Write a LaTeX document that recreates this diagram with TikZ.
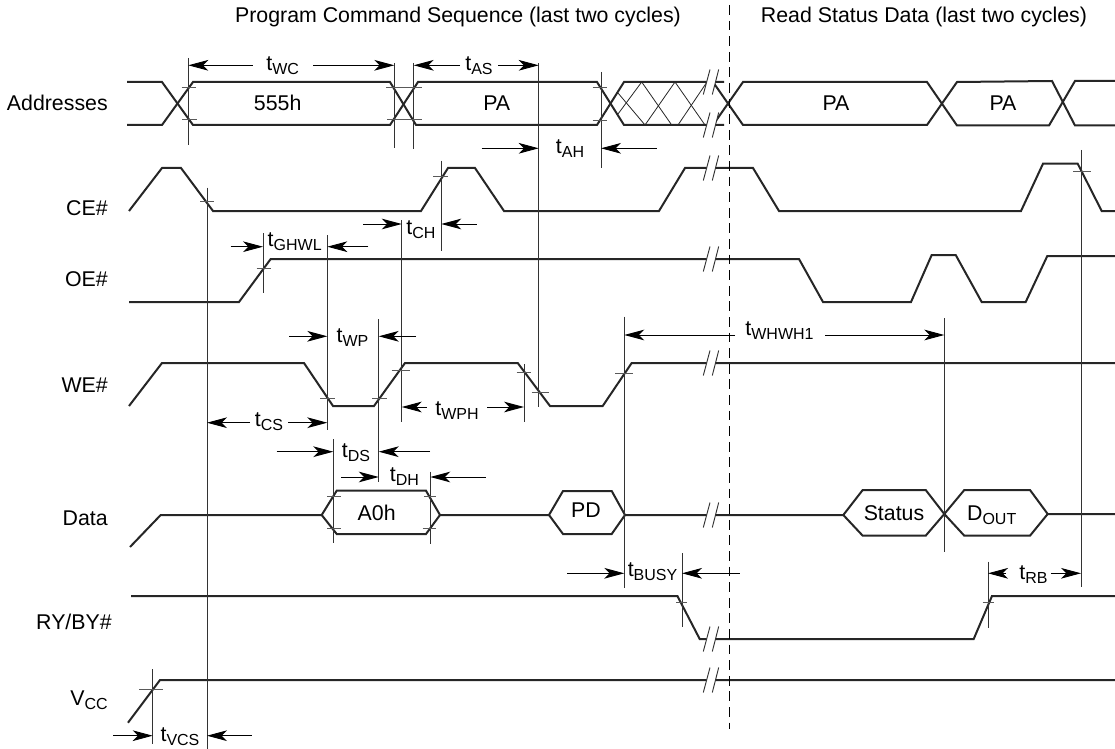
\documentclass[tikz,border=0pt]{standalone}
\usepackage{fontspec}
\setmainfont{Liberation Sans}
\usetikzlibrary{arrows.meta}
\newcommand{\subt}[2]{#1\raisebox{-3.2pt}{\fontsize{12}{12}\selectfont #2}}
\begin{document}
\begin{tikzpicture}[x=0.75pt,y=-0.75pt,
    wave/.style={line width=1.5pt,black!85,line join=miter},
    guide/.style={line width=0.7pt,black!80},
    tick/.style={line width=0.6pt,black!65},
    hatch/.style={line width=0.6pt,black!85},
    dim/.style={line width=0.7pt,black,-{Stealth[length=15pt,width=8pt,inset=4pt]}},
    txt/.style={font=\fontsize{16}{16}\selectfont,inner sep=0pt,anchor=base},
    rowtxt/.style={txt,anchor=base east}]
      \useasboundingbox (0,0) rectangle (1115,749);
      \node[txt] (seqprog) at (458,23) {Program Command Sequence (last two cycles)};
      \node[txt] (seqread) at (924,23) {Read Status Data (last two cycles)};
      \foreach \nam/\y/\lab in {addr/110.7/Addresses,ce/215/CE\#,oe/286/OE\#,we/392.7/WE\#,data/525/Data} {%
        \node[rowtxt] (row\nam) at (108,\y) {\lab};
      }
      \node[rowtxt] (rowry) at (112,629) {RY/BY\#};
      \node[rowtxt] (rowvcc) at (108,705) {\subt{V}{CC}};
      \draw[wave] (127,82) -- (162,82) -- (193,125) -- (390,125) -- (418,82) -- (597,82) -- (624,125) -- (724,125);
      \draw[wave] (127,125) -- (162,125) -- (193,82) -- (390,82) -- (416,125) -- (597,125) -- (624,82) -- (724,82);
      \draw[wave] (713,82) -- (743,125) -- (927,125) -- (957,82) -- (1052,81) -- (1075,125.5) -- (1115,125.5);
      \draw[wave] (713,125) -- (743,82) -- (927,82) -- (957,125.5) -- (1049,125.5) -- (1075,81) -- (1115,81);
      \foreach \xa/\ya/\xb/\yb in {641.7/82/618/114,618/93/645/125,675/82/645/125,641.7/82/671.7/125,
        675/82/705/125,707/82/678/125} {%
        \draw[hatch] (\xa,\ya) -- (\xb,\yb);
      }
      \draw[wave] (129,211) -- (162,168) -- (181,168) -- (213,211) -- (421,211) -- (448,168) -- (475,168)
        -- (504,211) -- (659,211) -- (685,168) -- (753,168) -- (779,211) -- (1021,211) -- (1043,163.7)
        -- (1077.7,163.7) -- (1101.7,211) -- (1115,211);
      \draw[wave] (129,302) -- (239,302) -- (270.7,259) -- (799,259) -- (823,302) -- (911,302) -- (931.7,255)
        -- (955.7,255) -- (981.7,302) -- (1025.7,302) -- (1047.3,256) -- (1115,256);
      \draw[wave] (129,406) -- (162,363) -- (304,363) -- (333,406) -- (374,406) -- (405,363) -- (517.7,363)
        -- (550,406) -- (602.7,406) -- (631.7,363) -- (1115,363);
      \draw[wave] (130,547) -- (160.7,515) -- (321.7,515) -- (336.7,490.7) -- (426,490.7) -- (440,515)
        -- (549,515) -- (563,491) -- (611.7,491) -- (625,515) -- (843.3,515) -- (862.7,490) -- (925.7,490)
        -- (944.3,514) -- (964.3,490) -- (1030,490) -- (1047.7,514) -- (1115,514);
      \draw[wave] (321.7,515) -- (336.7,534) -- (426,534) -- (440,515);
      \draw[wave] (549,515) -- (563,534) -- (611.7,534) -- (625,515);
      \draw[wave] (843.3,515) -- (862.7,535.7) -- (925.7,535.7) -- (944.3,514) -- (964.3,535.7) -- (1030,535.7) -- (1047.7,514);
      \draw[wave] (131,596) -- (677.4,596) -- (699.7,639) -- (973.7,639) -- (992,596) -- (1115,596);
      \draw[wave] (128,722.7) -- (160,680) -- (1115,680);
      \foreach \y in {82,125,168,259,363,515,639,680} {%
        \fill[white] (703.3,\y+12.5) -- (710,\y-12.5) -- (718.7,\y-12.5) -- (712.3,\y+12.5) -- cycle;
        \draw[guide] (703.3,\y+12.5) -- (710,\y-12.5);
        \draw[guide] (712.3,\y+12.5) -- (718.7,\y-12.5);
      }
      \draw[line width=0.8pt,dash pattern=on 7.3pt off 4.4pt] (729.5,5) -- (729.5,729);
      \foreach \x/\ya/\yb in {188.3/58/145,394.3/63/148,413.7/63/149,538.7/63/406.7,601/72/167.7,207/187.7/749,
        441.3/160.7/250.7,401.7/220/421.7,263/233/293,327.3/235/430,378.7/319.3/481.7,333.3/439.3/543,
        430.3/471.7/544,524/364/421.7,624.3/316.7/587.7,944.3/318.3/551.7,1081/150/586.7,682/553/626.7,
        988/561.7/627.7,152.7/669/744} {%
        \draw[guide] (\x,\ya) -- (\x,\yb);
      }
      \foreach \xa/\xb/\y in {181.7/196/87.7,182/197/119,386/421.7/87.7,387/421.7/119,592.7/607/87.7,592.7/607/120,
        200/214.3/201.7,433/448/176.7,1073/1091/171.7,256.7/271/268.7,320/335/398.7,372/386.7/398.7,
        391.7/410/370.7,516.7/531/372.7,531.7/549.3/392.3,615/632.7/373.3,327.3/340.7/496,327.3/340.7/528.3,
        424/435.7/496,422.7/435.7/528.3,676/687.3/602.7,982.5/994/602.7,139/163.3/689.7} {%
        \draw[tick] (\xa,\y) -- (\xb,\y);
      }
      \foreach \xa/\xb/\y in {252.7/188.3/65.3,313.3/394.3/65.3,460/413.7/65.3,498.3/538.7/65.3,481.7/538.7/148.3,
        656.7/601/148.3,363.3/401.7/224,476.7/441.3/224,230.7/263/246.7,368.3/327.3/246.7,289.3/327.3/336.3,
        416/378.7/336.3,250/207/422.7,288.3/327.3/422.7,426.7/401.7/407,487.3/524/407,276.7/333.3/451.7,
        430/378.7/451.7,341/378.7/477,485.7/430.3/477,735/624.3/335,825/944.3/335,567/624.3/573.3,739.6/682/573.3,
        1006/988/573.3,1050.8/1081/573.3,113/152.7/735.7,251.7/207/735.7} {%
        \draw[dim] (\xa,\y) -- (\xb,\y);
      }
      \foreach \nam/\x/\y/\lab in {wc/282.7/70.7/WC,as/479/70.7/AS,ah/570/153/AH,ch/421/234.7/CH,ghwl/294.7/246.3/GHWL,
        wp/352.5/342/WP,cs/269/426/CS,wph/457/415.7/WPH,ds/356/457.7/DS,dh/404.5/481/DH,whwh/779.5/335.7/WHWH1,
        busy/652.5/576.7/BUSY,rb/1033.5/579/RB,vcs/180/741.7/VCS} {%
        \node[txt] (t\nam) at (\x,\y) {\subt{t}{\lab}};
      }
      \foreach \nam/\x/\y/\lab in {addra/277.7/110.7/555h,addrb/496.7/110.7/PA,addrc/836/110.7/PA,addrd/1003/110.7/PA,
        datb/376.7/520/A0h,datc/586/517.7/PD,datd/894/520/Status} {%
        \node[txt] (v\nam) at (\x,\y) {\lab};
      }
      \node[txt] (vdout) at (991.7,520) {\subt{D}{OUT}};
    \end{tikzpicture}
\end{document}
